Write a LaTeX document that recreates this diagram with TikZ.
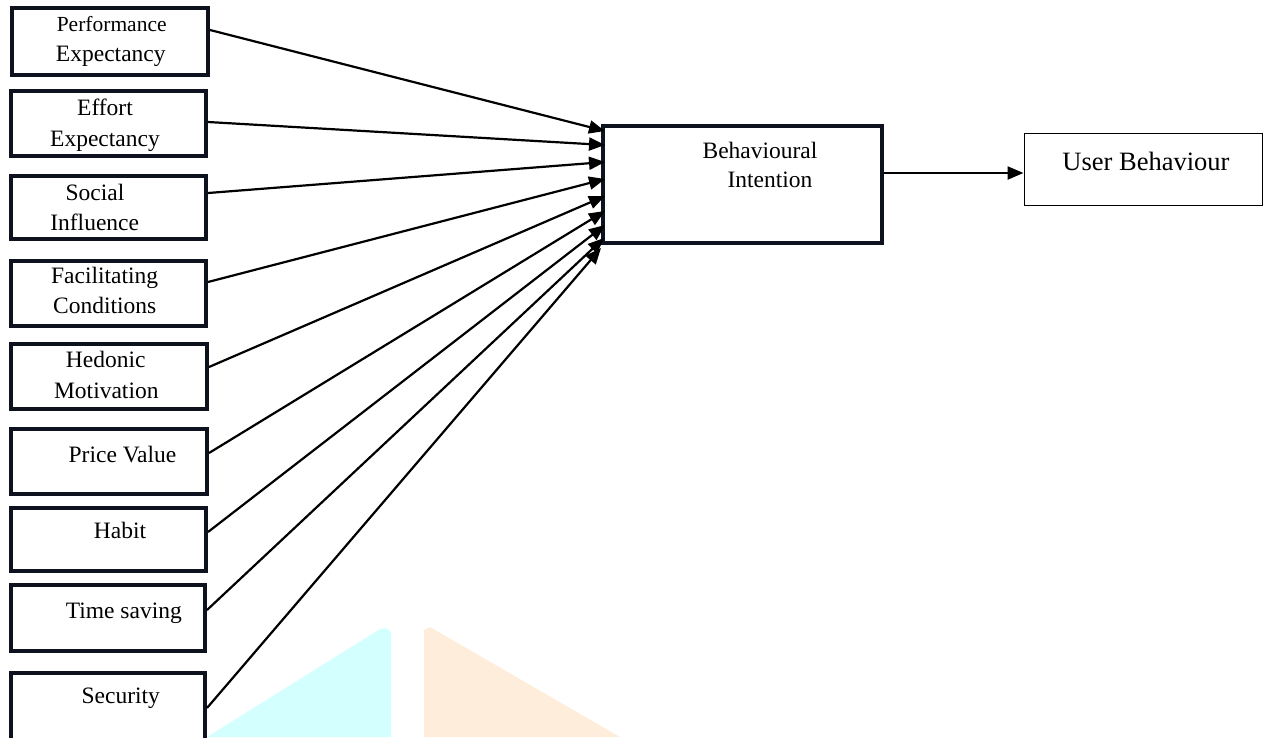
\documentclass[tikz,border=0pt]{standalone}
\usepackage{fontspec}
\setmainfont{Liberation Serif}
\usetikzlibrary{arrows.meta}
\definecolor{boxcol}{RGB}{14,18,30}
\definecolor{wmcyan}{RGB}{212,255,255}
\definecolor{wmpeach}{RGB}{255,237,219}
\tikzset{
  box/.style={draw=boxcol, line width=4pt, rectangle, inner sep=0pt, fill=white},
  thinbox/.style={draw=black, line width=1pt, rectangle, inner sep=0pt, fill=white},
  txt/.style={inner sep=0pt, anchor=base, font=\fontsize{23.5}{28}\selectfont},
  conn/.style={draw=black, line width=2.2pt, -{Triangle[length=16pt,width=13pt]}},
}
\begin{document}
\begin{tikzpicture}[x=1pt,y=-1pt]
\useasboundingbox (0,0) rectangle (1263,737);
% watermark shapes
\fill[wmcyan] (207,737) -- (380,629) -- (386,628) -- (391,632) -- (391,737) -- cycle;
\fill[wmpeach] (424,737) -- (424,630) -- (430,627) -- (620,737) -- cycle;
% left boxes
\node[box, minimum width=196pt, minimum height=67pt] (pe) at (110,41.5) {};
\node[box, minimum width=195pt, minimum height=65pt] (ee) at (108.5,123.5) {};
\node[box, minimum width=195pt, minimum height=63pt] (si) at (108.5,207.5) {};
\node[box, minimum width=195pt, minimum height=65pt] (fc) at (108.5,293.5) {};
\node[box, minimum width=196pt, minimum height=65pt] (hm) at (109,376.5) {};
\node[box, minimum width=196pt, minimum height=65pt] (pv) at (109,461.5) {};
\node[box, minimum width=195pt, minimum height=63pt] (hb) at (108.5,539.5) {};
\node[box, minimum width=194pt, minimum height=66pt] (ts) at (108,618) {};
\node[box, minimum width=194pt, minimum height=68pt] (se) at (108,707) {};
% texts
\node[txt, font=\fontsize{21.5}{26}\selectfont] (t1a) at (111.7,31) {Performance};
\node[txt] (t1b) at (110.8,61) {Expectancy};
\node[txt] (t2a) at (105,115) {Effort};
\node[txt] (t2b) at (105,146) {Expectancy};
\node[txt] (t3a) at (95,200) {Social};
\node[txt] (t3b) at (94.7,230) {Influence};
\node[txt] (t4a) at (104.7,283) {Facilitating};
\node[txt] (t4b) at (104.7,313) {Conditions};
\node[txt] (t5a) at (105.8,367) {Hedonic};
\node[txt] (t5b) at (106.3,398) {Motivation};
\node[txt] (t6) at (122.5,462) {Price Value};
\node[txt] (t7) at (120,538) {Habit};
\node[txt] (t8) at (123.8,618) {Time saving};
\node[txt] (t9) at (120.8,703) {Security};
% behavioural intention
\node[box, minimum width=279pt, minimum height=117pt] (bi) at (742.5,184.5) {};
\node[txt] (bia) at (760,158) {Behavioural};
\node[txt] (bib) at (770,187) {Intention};
% user behaviour
\node[thinbox, minimum width=238pt, minimum height=72pt] (ub) at (1143,169) {};
\node[txt, font=\fontsize{26.5}{30}\selectfont] (uba) at (1146,170) {User Behaviour};
% connectors
\draw[conn] ([yshift=11.5pt]pe.east) -- ([xshift=4pt,yshift=53.5pt]bi.west);
\draw[conn] ([yshift=1.5pt]ee.east) -- ([xshift=4pt,yshift=39.5pt]bi.west);
\draw[conn] ([yshift=14.5pt]si.east) -- ([xshift=4pt,yshift=22.5pt]bi.west);
\draw[conn] ([yshift=11.5pt]fc.east) -- ([xshift=4pt,yshift=5.5pt]bi.west);
\draw[conn] ([yshift=9.5pt]hm.east) -- ([xshift=4pt,yshift=-11.5pt]bi.west);
\draw[conn] ([yshift=8.5pt]pv.east) -- ([xshift=4pt,yshift=-26.5pt]bi.west);
\draw[conn] ([yshift=7.5pt]hb.east) -- ([xshift=4pt,yshift=-40.5pt]bi.west);
\draw[conn] ([yshift=8pt]ts.east) -- ([xshift=3pt,yshift=-53.5pt]bi.west);
\draw[conn] ([yshift=-1pt]se.east) -- ([xshift=0pt,yshift=-63.5pt]bi.west);
\draw[conn] ([yshift=11.5pt]bi.east) -- ([yshift=11.5pt]bi.east -| ub.west);
\end{tikzpicture}
\end{document}
